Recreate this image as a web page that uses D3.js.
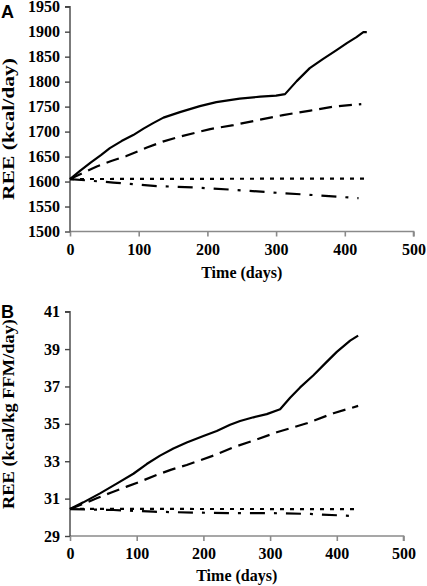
<!DOCTYPE html>
<html><head><meta charset="utf-8">
<script src="https://cdn.jsdelivr.net/npm/d3@7"></script>
<style>body{margin:0;background:#fff}</style>
</head><body>
<svg id="c" width="427" height="586"></svg>
<script>
// Panel A: REE (kcal/day)
const aSolidDays = [0, 15, 30, 45, 58, 75, 92, 107, 121, 136, 160, 189, 213, 247, 277, 300, 313, 330, 349, 368, 388, 403, 417, 427, 432];
const aSolidVals = [1605, 1622, 1638, 1653, 1667, 1681, 1693, 1706, 1717, 1728, 1739, 1751, 1759, 1766, 1770, 1772, 1775, 1801, 1827, 1845, 1863, 1877, 1889, 1899, 1899];
const aDashDays = [0, 20, 39, 60, 82, 112, 135, 160, 204, 238, 270, 310, 350, 383, 424];
const aDashVals = [1605, 1618, 1630, 1641, 1651, 1668, 1680, 1690, 1705, 1713, 1722, 1733, 1742, 1750, 1755];
const aDotDays = [0, 428];
const aDotVals = [1605, 1606];
const aDashDotDays = [0, 63, 126, 184, 243, 296, 354, 417, 420];
const aDashDotVals = [1605, 1598, 1591, 1588, 1583, 1578, 1573, 1567, 1567];
// Panel B: REE (kcal/kg FFM/day)
const bSolidDays = [0, 20, 45, 70, 95, 115, 135, 155, 175, 200, 220, 240, 255, 275, 295, 315, 330, 345, 365, 383, 400, 420, 432];
const bSolidVals = [30.44, 30.8, 31.28, 31.8, 32.33, 32.85, 33.3, 33.68, 34.0, 34.35, 34.62, 34.95, 35.15, 35.35, 35.52, 35.78, 36.4, 36.95, 37.6, 38.25, 38.85, 39.45, 39.72];
const bDashDays = [0, 20, 40, 62, 85, 108, 130, 152, 175, 215, 245, 275, 310, 355, 395, 432];
const bDashVals = [30.44, 30.72, 31.02, 31.33, 31.64, 31.95, 32.27, 32.55, 32.8, 33.3, 33.75, 34.1, 34.55, 35.03, 35.57, 35.96];
const bDotDays = [0, 433];
const bDotVals = [30.45, 30.44];
const bDashDotDays = [0, 65, 125, 190, 250, 305, 360, 422, 427];
const bDashDotVals = [30.44, 30.39, 30.3, 30.25, 30.22, 30.22, 30.18, 30.07, 30.03];
// Ticks
const xTicks = [0, 100, 200, 300, 400, 500];
const aYTicks = [1500, 1550, 1600, 1650, 1700, 1750, 1800, 1850, 1900, 1950];
const bYTicks = [29, 31, 33, 35, 37, 39, 41];

const svg = d3.select('#c');
const serif = '"Liberation Serif","Times New Roman",serif';

const styles = [
  {dash: null},
  {dash: '13,7'},
  {dash: '4,6'},
  {dash: '15,9,3,9'}
];

function panel(cfg) {
  const x = d3.scaleLinear().domain([0, 500]).range(cfg.xr);
  const y = d3.scaleLinear().domain(cfg.yd).range(cfg.yr);
  const g = svg.append('g');
  const xa = g.append('g').attr('transform', `translate(0,${cfg.yr[0]})`)
    .call(d3.axisBottom(x).tickValues(xTicks).tickSize(5).tickPadding(7).tickFormat(d3.format('d')));
  xa.select('.domain').attr('stroke', '#8a8a8a').attr('stroke-width', 1.6);
  xa.selectAll('.tick line').attr('stroke', '#8a8a8a').attr('stroke-width', 1.6);
  const ya = g.append('g').attr('transform', `translate(${cfg.xr[0]},0)`)
    .call(d3.axisLeft(y).tickValues(cfg.yTicks).tickSize(5).tickPadding(5).tickFormat(d3.format('d')));
  ya.select('.domain').attr('stroke', '#444').attr('stroke-width', 1.4);
  ya.selectAll('.tick line').attr('stroke', '#444').attr('stroke-width', 1.4);
  g.selectAll('.tick text').attr('font-family', serif).attr('font-size', 16)
    .attr('font-weight', 'bold').attr('fill', '#000');
  ya.select('.domain').attr('d', `M${-5},${cfg.yr[1]}H0V${cfg.yr[0]}`);
  xa.select('.domain').attr('d', `M${cfg.xr[0]},0H${cfg.xr[1]}V5`);

  const line = d3.line().x(d => x(d[0])).y(d => y(d[1]));
  cfg.series.forEach((s, i) => {
    const pts = s[0].map((d, j) => [d, s[1][j]]);
    g.append('path').datum(pts).attr('d', line).attr('fill', 'none')
      .attr('stroke', '#000').attr('stroke-width', 2.2).attr('stroke-linejoin', 'round')
      .attr('stroke-dasharray', styles[i].dash);
  });
  g.append('text').attr('x', (cfg.xr[0] + cfg.xr[1]) / 2).attr('y', cfg.xtY)
    .attr('text-anchor', 'middle').attr('font-family', serif).attr('font-size', 16)
    .attr('font-weight', 'bold').text('Time (days)');
  g.append('text').attr('transform', `translate(${cfg.ytX},${cfg.ytY}) rotate(-90)`)
    .attr('text-anchor', 'middle').attr('font-family', serif).attr('font-size', 16)
    .attr('font-weight', 'bold').attr('textLength', cfg.ytLen).attr('lengthAdjust', 'spacingAndGlyphs')
    .text(cfg.yTitle);
  g.append('text').attr('x', 1).attr('y', cfg.letterY)
    .attr('font-family', '"Liberation Sans",Arial,sans-serif').attr('font-size', 18)
    .attr('font-weight', 'bold').text(cfg.letter);
}

panel({
  xr: [70, 413.5], yd: [1500, 1950], yr: [231.5, 6.7], yTicks: aYTicks,
  series: [[aSolidDays, aSolidVals], [aDashDays, aDashVals], [aDotDays, aDotVals], [aDashDotDays, aDashDotVals]],
  xtY: 278, ytX: 14, ytY: 129, ytLen: 142, yTitle: 'REE (kcal/day)', letter: 'A', letterY: 18
});
panel({
  xr: [70, 403.5], yd: [29, 41], yr: [536, 311.7], yTicks: bYTicks,
  series: [[bSolidDays, bSolidVals], [bDashDays, bDashVals], [bDotDays, bDotVals], [bDashDotDays, bDashDotVals]],
  xtY: 581, ytX: 14, ytY: 414, ytLen: 190, yTitle: 'REE (kcal/kg FFM/day)', letter: 'B', letterY: 318
});
</script>
</body></html>
